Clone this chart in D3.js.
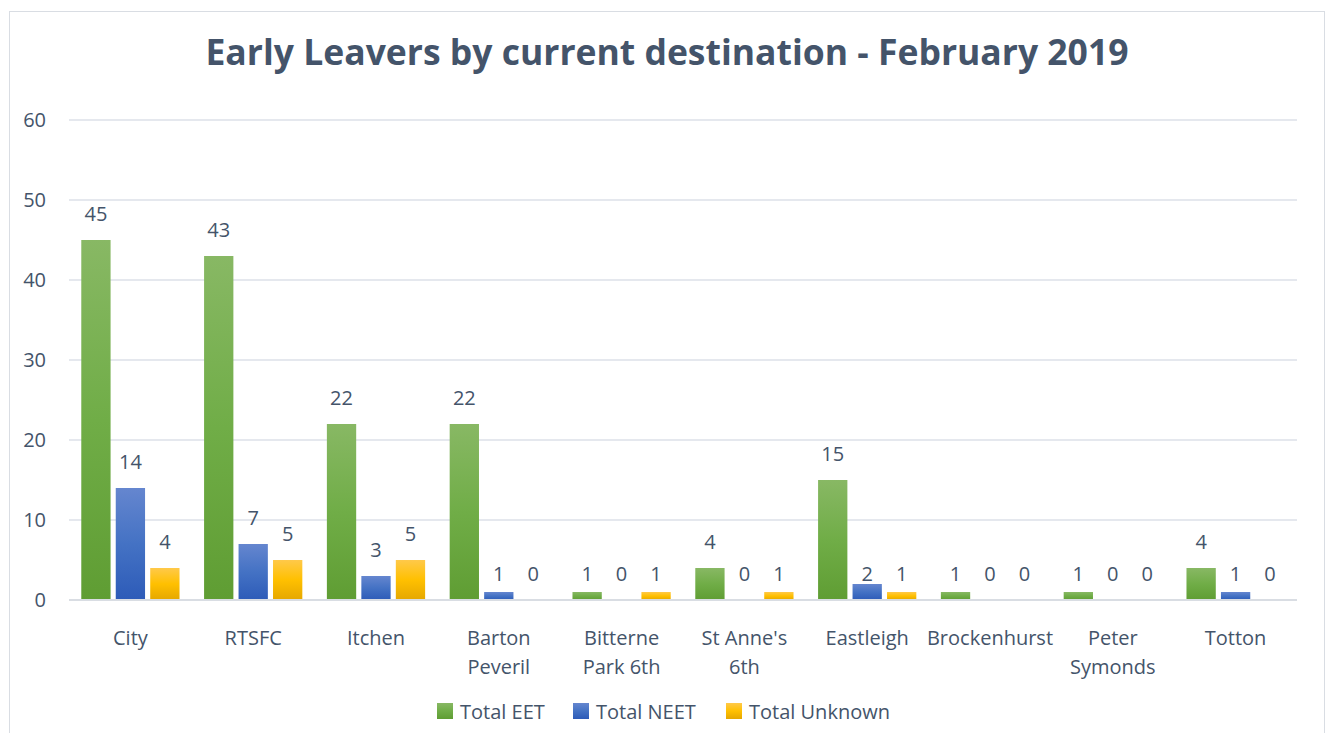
<!DOCTYPE html>
<html>
<head>
<meta charset="utf-8">
<script src="https://cdn.jsdelivr.net/npm/d3@7"></script>
<style>
  html, body { margin: 0; padding: 0; background: #fff; }
  svg { display: block; font-family: 'Open Sans', sans-serif; }
</style>
</head>
<body>
<div id="chart"></div>
<script>
const categories = ["City", "RTSFC", "Itchen", "Barton Peveril", "Bitterne Park 6th",
    "St Anne's 6th", "Eastleigh", "Brockenhurst", "Peter Symonds", "Totton"];
const categoryLines = [["City"], ["RTSFC"], ["Itchen"], ["Barton", "Peveril"], ["Bitterne", "Park 6th"],
    ["St Anne's", "6th"], ["Eastleigh"], ["Brockenhurst"], ["Peter", "Symonds"], ["Totton"]];
const seriesNames = ["Total EET", "Total NEET", "Total Unknown"];
const totalEET     = [45, 43, 22, 22, 1, 4, 15, 1, 1, 4];
const totalNEET    = [14, 7, 3, 1, 0, 0, 2, 0, 0, 1];
const totalUnknown = [4, 5, 5, 0, 1, 1, 1, 0, 0, 0];
const yTicks = [0, 10, 20, 30, 40, 50, 60];

const W = 1327, H = 733;
const textColor = "#44546a";
const gradients = [
    ["#88b864", "#70ad47", "#5f9d33"],
    ["#6586cf", "#4472c4", "#2d5bb8"],
    ["#ffc94a", "#ffc000", "#e5a700"]
];

const svg = d3.select("#chart").append("svg")
    .attr("width", W)
    .attr("height", H);

// gradients for bars + legend
const defs = svg.append("defs");
gradients.forEach((g, i) => {
    const lg = defs.append("linearGradient")
        .attr("id", "grad" + i)
        .attr("x1", 0).attr("y1", 0).attr("x2", 0).attr("y2", 1);
    lg.append("stop").attr("offset", "0%").attr("stop-color", g[0]);
    lg.append("stop").attr("offset", "50%").attr("stop-color", g[1]);
    lg.append("stop").attr("offset", "100%").attr("stop-color", g[2]);
});

// chart frame
svg.append("rect")
    .attr("x", 9.5).attr("y", 11.5)
    .attr("width", 1315).attr("height", 740)
    .attr("fill", "#fff")
    .attr("stroke", "#d9dde3");

svg.append("text")
    .attr("x", 667)
    .attr("y", 65)
    .attr("text-anchor", "middle")
    .attr("font-size", "35.5px")
    .attr("font-weight", "bold")
    .attr("fill", textColor)
    .text("Early Leavers by current destination - February 2019");

const x0 = d3.scaleBand()
    .domain(categories)
    .range([69, 1297])
    .paddingInner(0.2)
    .paddingOuter(0.1);

const x1 = d3.scaleBand()
    .domain(seriesNames)
    .range([0, x0.bandwidth()])
    .paddingInner(0.15);

const y = d3.scaleLinear()
    .domain([0, 60])
    .range([600, 120]);

// gridlines
svg.append("g")
    .selectAll("line")
    .data(yTicks.filter(t => t > 0))
    .enter().append("line")
    .attr("x1", 69).attr("x2", 1297)
    .attr("y1", d => y(d)).attr("y2", d => y(d))
    .attr("stroke", "#dde1e8")
    .attr("stroke-width", 1.5);

// y tick labels
svg.append("g")
    .selectAll("text")
    .data(yTicks)
    .enter().append("text")
    .attr("x", 46)
    .attr("y", d => y(d) + 7)
    .attr("text-anchor", "end")
    .attr("font-size", "20px")
    .attr("fill", textColor)
    .text(d => d);

const rows = categories.map((c, i) => ({
    cat: c,
    values: [totalEET[i], totalNEET[i], totalUnknown[i]]
}));

const groups = svg.append("g")
    .selectAll("g")
    .data(rows)
    .enter().append("g")
    .attr("transform", d => `translate(${x0(d.cat)},0)`);

const cells = groups.selectAll("g")
    .data(d => d.values.map((v, i) => ({ s: seriesNames[i], i: i, v: v })))
    .enter().append("g");

cells.filter(d => d.v > 0)
    .append("rect")
    .attr("x", d => x1(d.s))
    .attr("y", d => y(d.v))
    .attr("width", x1.bandwidth())
    .attr("height", d => y(0) - y(d.v))
    .attr("fill", d => `url(#grad${d.i})`);

// data labels - tiny bars (<=2) sit on the same row as the zeros, like the source
cells.append("text")
    .attr("x", d => x1(d.s) + x1.bandwidth() / 2)
    .attr("y", d => (d.v <= 2 ? y(0) : y(d.v)) - 19)
    .attr("text-anchor", "middle")
    .attr("font-size", "20px")
    .attr("fill", textColor)
    .text(d => d.v);

// baseline axis
svg.append("line")
    .attr("x1", 69).attr("x2", 1297)
    .attr("y1", y(0)).attr("y2", y(0))
    .attr("stroke", "#d9dde3")
    .attr("stroke-width", 2);

// category labels
const catLabels = svg.append("g")
    .selectAll("text")
    .data(categories)
    .enter().append("text")
    .attr("x", d => x0(d) + x0.bandwidth() / 2)
    .attr("y", 645)
    .attr("text-anchor", "middle")
    .attr("font-size", "20px")
    .attr("fill", textColor);

catLabels.each(function(d, i) {
    categoryLines[i].forEach((line, j) => {
        d3.select(this).append("tspan")
            .attr("x", x0(d) + x0.bandwidth() / 2)
            .attr("dy", j === 0 ? 0 : 29)
            .text(line);
    });
});

// legend
const legendX = [437, 573, 726];
const legend = svg.append("g")
    .selectAll("g")
    .data(seriesNames)
    .enter().append("g")
    .attr("transform", (d, i) => `translate(${legendX[i]},703)`);

legend.append("rect")
    .attr("width", 16).attr("height", 16)
    .attr("fill", (d, i) => `url(#grad${i})`);

legend.append("text")
    .attr("x", 23)
    .attr("y", 16)
    .attr("font-size", "20px")
    .attr("fill", textColor)
    .text(d => d);
</script>
</body>
</html>
